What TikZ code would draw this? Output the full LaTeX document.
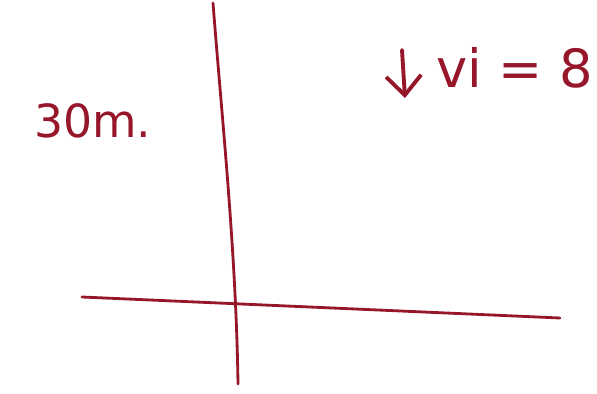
\documentclass[tikz,border=0pt]{standalone}
\usepackage{fontspec}
\setmainfont{DejaVu Sans}
\usetikzlibrary{arrows.meta,positioning}
\definecolor{inkred}{RGB}{150,22,42}

\begin{document}
\begin{tikzpicture}[
		x=0.02cm, y=-0.02cm,
		pen/.style={draw=inkred, line width=1.6pt, line cap=round},
		label/.style={text=inkred, inner sep=0pt, anchor=base west}
		]
		
		\useasboundingbox (0,0) rectangle (597,394);
		
		% axes
		\coordinate (vtop) at (213,3);
		\coordinate (vbot) at (238,384);
		\coordinate (hleft) at (82,297);
		\coordinate (hright) at (560,318);
		\draw[pen] (vtop) .. controls (222,120) and (236,250) .. (vbot);
		\draw[pen] (hleft) -- (hright);
		
		% height
		\node[label, font=\fontsize{26}{26}\selectfont] (height) at (34,138) {30m.};
		
		% initial speed
		\coordinate (atop) at (402,50);
		\coordinate (atip) at (405,98);
		\draw[pen, line width=2.2pt, -{Straight Barb[length=11pt, width=20pt]}] (atop) -- (atip);
		\node[label, font=\fontsize{30}{30}\selectfont] (speed) at (436,88) {vi = 8};
		
	\end{tikzpicture}
\end{document}
